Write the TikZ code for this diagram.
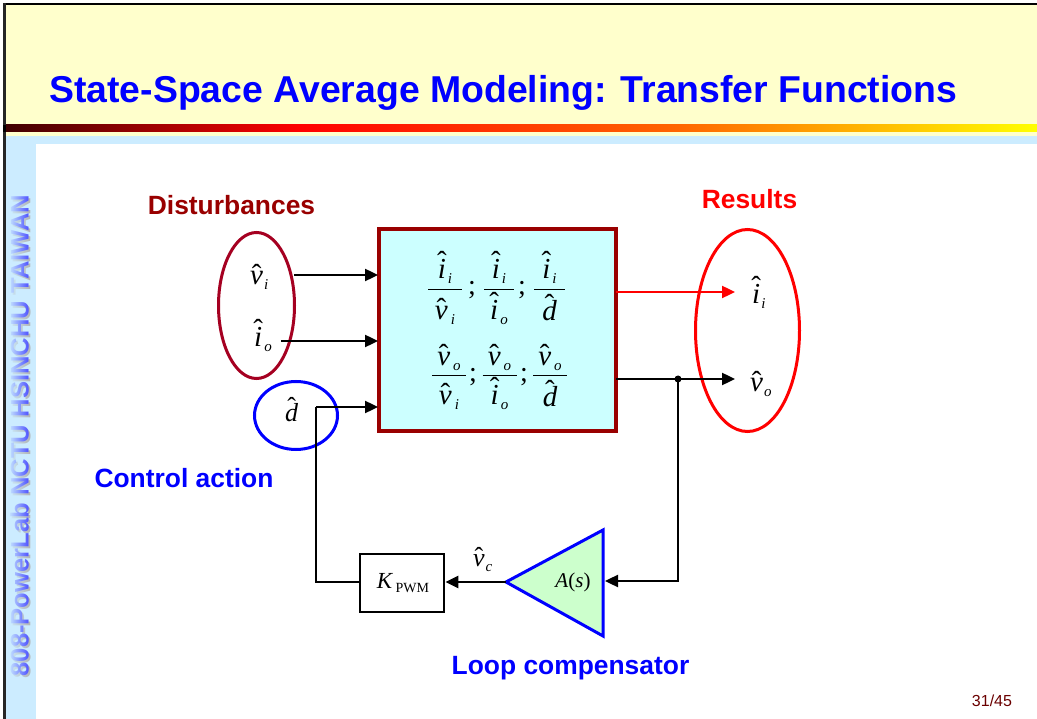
\documentclass[tikz,border=0pt]{standalone}
\usepackage{fontspec}
\setmainfont{Liberation Sans}
\newfontfamily\serifit{Liberation Serif}
\usetikzlibrary{arrows.meta,fadings,shapes.geometric}
\definecolor{paley}{HTML}{FFFFCC}
\definecolor{paleb}{HTML}{CCECFF}
\definecolor{palec}{HTML}{CCFFFF}
\definecolor{paleg}{HTML}{CCFFCC}
\definecolor{darkr}{HTML}{990000}
\definecolor{crim}{HTML}{A50021}
\definecolor{tblue}{HTML}{0000FF}
\newcommand{\sz}[1]{\fontsize{#1}{#1}\selectfont}
% letter with a raised hat: #1 raise, #2 letter
\newcommand{\hatl}[2]{{\ooalign{\serifit\itshape #2\cr\hidewidth\raisebox{#1}{\serifit\upshape\char"02C6}\hidewidth\cr}}}
\newcommand{\hv}{\hatl{0.03em}{v}}
\newcommand{\hi}{\hatl{0.25em}{i}}
\newcommand{\hd}{\hatl{0.22em}{d}}
\newcommand{\subs}[1]{\raisebox{-5pt}{\sz{15}\serifit\itshape\kern1pt #1}}
% fraction whose baseline is its bar: width, numerator, denominator, numerator lift, denominator drop
\newcommand{\frc}[5]{\hbox{\rlap{\raisebox{#4}{\hbox to #1{\hss #2\hss}}}\rlap{\rule{#1}{0.9pt}}\rlap{\raisebox{-#5}{\hbox to #1{\hss #3\hss}}}\hskip #1}}
\tikzset{
  bigfrac/.style={anchor=base,inner sep=0pt,font=\sz{29}},
  varlabel/.style={anchor=base west,inner sep=0pt,font=\sz{29}},
  semi/.style={anchor=base,inner sep=0pt,font=\sz{28}\serifit},
  headline/.style={inner sep=0pt,text=tblue,font=\sz{26.4}\bfseries},
  conn/.style={line width=2.4pt,draw=black,-{Triangle[length=13pt,width=12pt]}},
  plain/.style={line width=2.4pt,draw=black},
  loope/.style={ellipse,draw,line width=3pt,inner sep=0pt},
}
\begin{document}
\begin{tikzpicture}[x=1pt,y=-1pt]
\useasboundingbox (0,0) rectangle (1037,719);
% background
\fill[white] (0,0) rectangle (1037,719);
\fill[paley] (3,3) rectangle (1037,136);
\fill[paleb] (6,136) rectangle (1037,144);
\fill[paleb] (6,144) rectangle (36,719);
\shade[left color=black!60!darkr,right color=red] (3,125) rectangle (300,132);
\shade[left color=red,right color=orange!80!red] (300,125) rectangle (680.5,132);
\shade[left color=orange!80!red,right color=yellow] (680,125) rectangle (1037,132);
\fill[black] (3,3) rectangle (1037,5);
\fill[black!85] (3,3) rectangle (6,719);
\fill[black] (3,125) rectangle (6,132);
% title
\node[anchor=base west,inner sep=0pt,text=tblue,font=\sz{37.4}\bfseries] (title) at (49,103) {State-Space Average Modeling: Transfer Functions};
% sidebar
\node[rotate=90,anchor=base west,inner sep=0pt,text=black!30,font=\sz{25.6}\bfseries] (sideshadow) at (30.5,678.5) {808-PowerLab NCTU HSINCHU TAIWAN};
\node[rotate=90,anchor=base west,inner sep=0pt,text=blue!75!white,font=\sz{25.6}\bfseries] (side) at (28.5,676.5) {808-PowerLab NCTU HSINCHU TAIWAN};
\fill[paleb,path fading=east] (8,185) rectangle (31,685);
% page number
\node[inner sep=0pt,font=\sz{16},text=darkr!70!black] (page) at (992,701) {31/45};
% block
\node[draw=darkr,fill=palec,line width=3.5pt,minimum width=237pt,minimum height=202pt,inner sep=0pt] (plant) at (497.5,330) {};
\node[bigfrac] (f11) at (445,289.5) {\frc{34pt}{\hi\kern1pt\subs{i}}{\hv\kern2pt\subs{i}}{11pt}{30pt}};
\node[semi] (s11) at (472,295) {;};
\node[bigfrac] (f12) at (499,289.5) {\frc{30pt}{\hi\kern1pt\subs{i}}{\hi\kern1pt\subs{o}}{11pt}{30pt}};
\node[semi] (s12) at (522,295) {;};
\node[bigfrac] (f13) at (549.5,289.5) {\frc{31pt}{\hi\kern1pt\subs{i}}{\hd}{11pt}{31pt}};
\node[bigfrac] (f21) at (449,375.5) {\frc{34pt}{\hv\kern2pt\subs{o}}{\hv\kern2pt\subs{i}}{10pt}{29pt}};
\node[semi] (s21) at (473,382) {;};
\node[bigfrac] (f22) at (499.5,375.5) {\frc{34pt}{\hv\kern2pt\subs{o}}{\hi\kern1pt\subs{o}}{10pt}{29pt}};
\node[semi] (s22) at (524,382) {;};
\node[bigfrac] (f23) at (550,375.5) {\frc{34pt}{\hv\kern2pt\subs{o}}{\hd}{10pt}{31pt}};
% small blocks
\node[draw=black,fill=white,line width=2.8pt,minimum width=84pt,minimum height=58pt,inner sep=0pt,font=\sz{23}] (kpwm) at (402,583) {\serifit\kern2pt\textit{K}\raisebox{-0.2em}{\sz{14}\,PWM}};
\coordinate (apex) at (506,582);
\coordinate (ttop) at (603,530);
\coordinate (tbot) at (603,636);
\coordinate (tback) at (605,581);
\draw[blue,fill=paleg,line width=3pt,line join=miter] (apex) -- (ttop) -- (tbot) -- cycle;
\node[inner sep=0pt,font=\sz{21}\serifit] (comp) at (573,582) {\textit{A}(\textit{s})};
% labels
\node[varlabel] (vi) at (250,285) {\hv\subs{i}};
\node[varlabel] (io) at (254,347) {\hi\kern1pt\subs{o}};
\node[varlabel,font=\sz{26}] (dh) at (285,421) {\hd};
\node[varlabel,font=\sz{26}] (vc) at (473,566) {\hv\subs{c}};
\node[varlabel] (ii) at (752,304) {\hi\subs{i}};
\node[varlabel] (vo) at (750,392) {\hv\subs{o}};
% ellipses
\node[loope,draw=crim,minimum width=76pt,minimum height=146pt] (edist) at (256.5,305.5) {};
\node[loope,draw=blue,minimum width=83pt,minimum height=68pt] (ectrl) at (296,415.5) {};
\node[loope,draw=red,minimum width=104pt,minimum height=202pt] (eres) at (747.5,330.5) {};
% connector anchors
\coordinate (a1) at (294,275);
\coordinate (a2) at (281,341);
\coordinate (a3) at (316,407);
\coordinate (b1) at (378,275);
\coordinate (b2) at (378,341);
\coordinate (b3) at (378,407);
\coordinate (o1) at (616,292);
\coordinate (o2) at (616,379);
\coordinate (t1) at (735,292);
\coordinate (t2) at (735,379);
\coordinate (tap) at (678,379);
\coordinate (tapb) at (678,581);
% connectors
\draw[conn] (a1) -- (b1);
\draw[conn] (a2) -- (b2);
\draw[plain] (apex -| kpwm.west) -| (a3);
\draw[conn] (a3) -- (b3);
\draw[conn,draw=red,-{Triangle[length=13pt,width=12pt,color=red]}] (o1) -- (t1);
\draw[conn] (o2) -- (t2);
\draw[conn] (apex) -- (apex -| kpwm.east);
\draw[conn] (tap) -- (tapb) -- (tback);
\fill[black] (tap) circle (3.5pt);
% headings
\node[headline,text=darkr] (hdist) at (231.5,205) {Disturbances};
\node[headline,text=red] (hres) at (749.5,199) {Results};
\node[headline] (hctrl) at (184,478) {Control action};
\node[headline] (hloop) at (570.5,668) {Loop compensator};
\end{tikzpicture}
\end{document}
